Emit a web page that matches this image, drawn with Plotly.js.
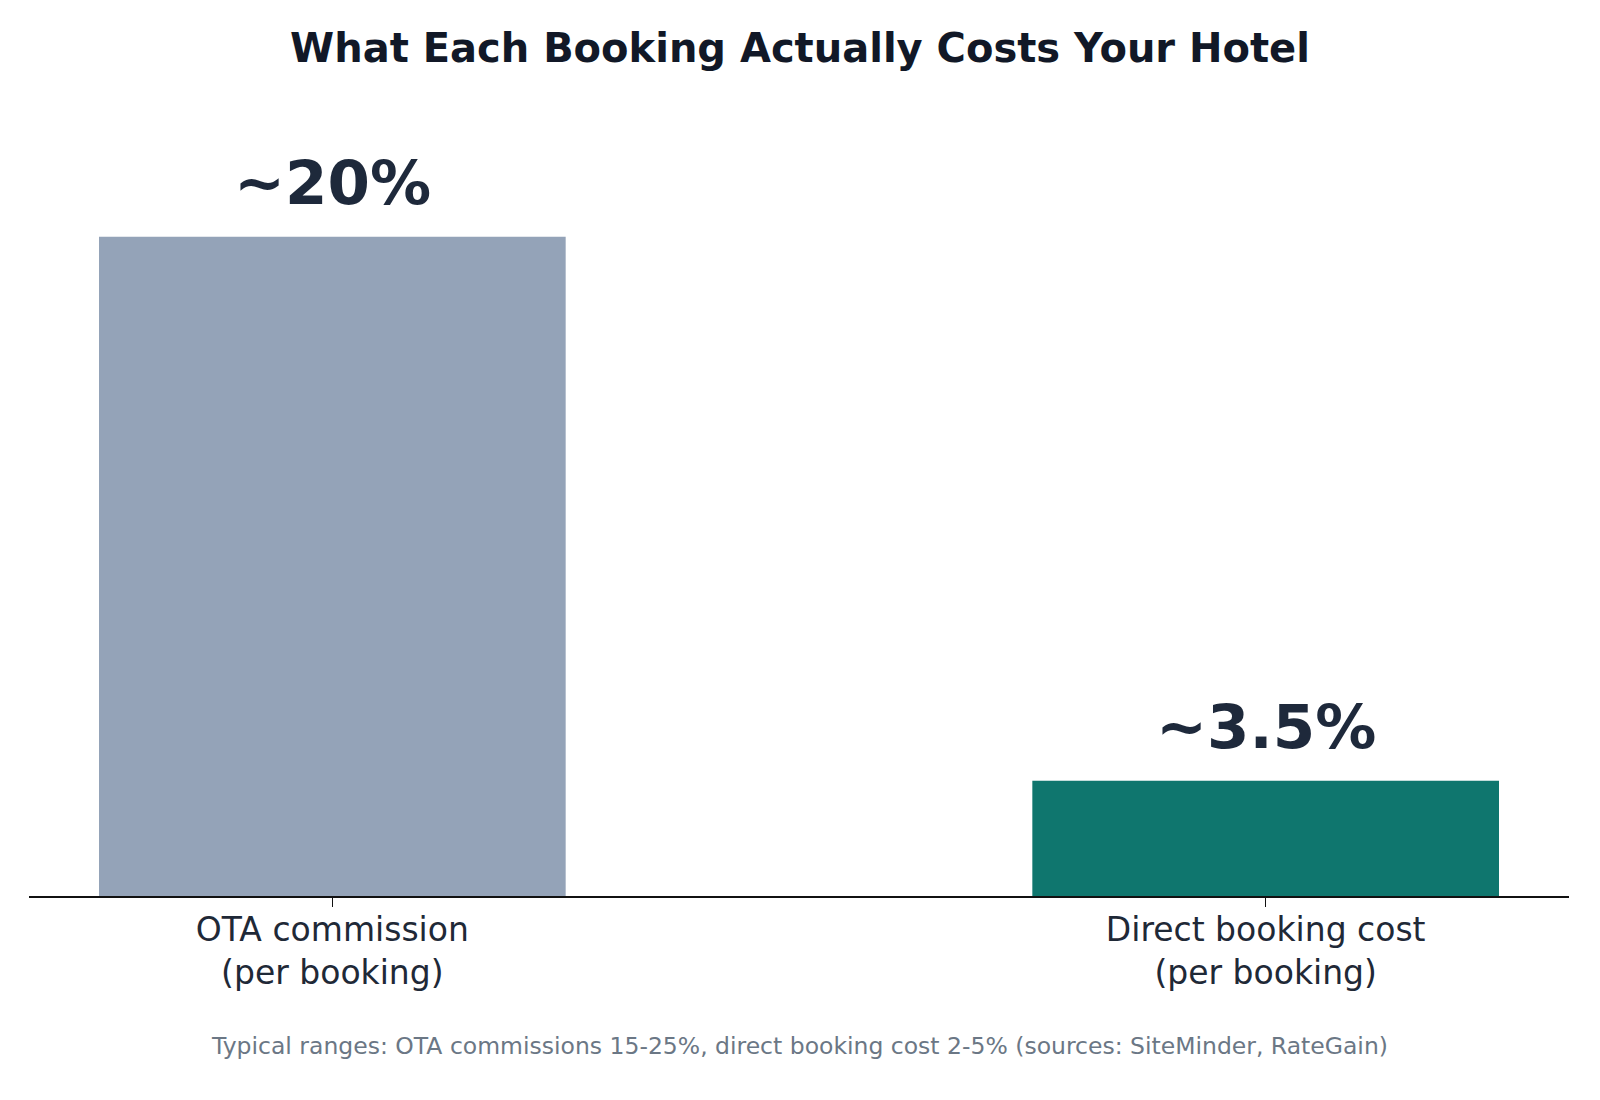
<!DOCTYPE html>
<html>
<head>
<meta charset="utf-8">
<script src="https://cdn.plot.ly/plotly-3.0.1.min.js"></script>
<style>
  body { margin: 0; background: #fff; }
  #chart { width: 1600px; height: 1100px; }
</style>
</head>
<body>
<div id="chart"></div>
<script>
var categories = ["OTA commission<br>(per booking)", "Direct booking cost<br>(per booking)"];
var costValues = [20, 3.5];
var valueLabels = ["~20%", "~3.5%"];
var barColors = ["#94a3b8", "#0f766e"];
var footNote = "Typical ranges: OTA commissions 15-25%, direct booking cost 2-5% (sources: SiteMinder, RateGain)";

var xPos = categories.map(function(c, i) { return i; });

var trace = {
    x: xPos,
    y: costValues,
    type: "bar",
    width: 0.5,
    marker: { color: barColors },
    hoverinfo: "skip"
};

var annotations = costValues.map(function(v, i) {
    return {
        x: xPos[i],
        y: v,
        xref: "x",
        yref: "y",
        text: valueLabels[i],
        showarrow: false,
        yanchor: "bottom",
        yshift: 17,
        font: { family: "DejaVu Sans", size: 61, color: "#1e293b", weight: "bold" }
    };
});

// footnote sits ~150px below the axis line
annotations.push({
    x: 0.5,
    y: -(1046 - 896) / (896 - 105),
    xref: "paper",
    yref: "paper",
    yanchor: "middle",
    text: footNote,
    showarrow: false,
    font: { family: "DejaVu Sans", size: 23.5, color: "#6b7785" }
});

var layout = {
    width: 1600,
    height: 1100,
    margin: { l: 29, r: 31, t: 105, b: 204 },
    paper_bgcolor: "#ffffff",
    plot_bgcolor: "#ffffff",
    showlegend: false,
    title: {
        text: "<b>What Each Booking Actually Costs Your Hotel</b>",
        x: 0.5,
        xanchor: "center",
        y: 1 - 48 / 1100,
        yanchor: "middle",
        font: { family: "DejaVu Sans", size: 40, color: "#111827" }
    },
    xaxis: {
        range: [-0.325, 1.325],
        tickmode: "array",
        tickvals: xPos,
        ticktext: categories,
        ticks: "outside",
        ticklen: 9,
        tickwidth: 1.5,
        tickcolor: "#111111",
        ticklabelstandoff: -6,
        showline: true,
        linecolor: "#111111",
        linewidth: 2,
        showgrid: false,
        zeroline: false,
        tickfont: { family: "DejaVu Sans", size: 33, color: "#1f2937" },
        fixedrange: true
    },
    yaxis: {
        range: [0, 24],
        visible: false,
        showgrid: false,
        zeroline: false,
        fixedrange: true
    },
    annotations: annotations
};

Plotly.newPlot("chart", [trace], layout, { displayModeBar: false, staticPlot: true });
</script>
</body>
</html>
